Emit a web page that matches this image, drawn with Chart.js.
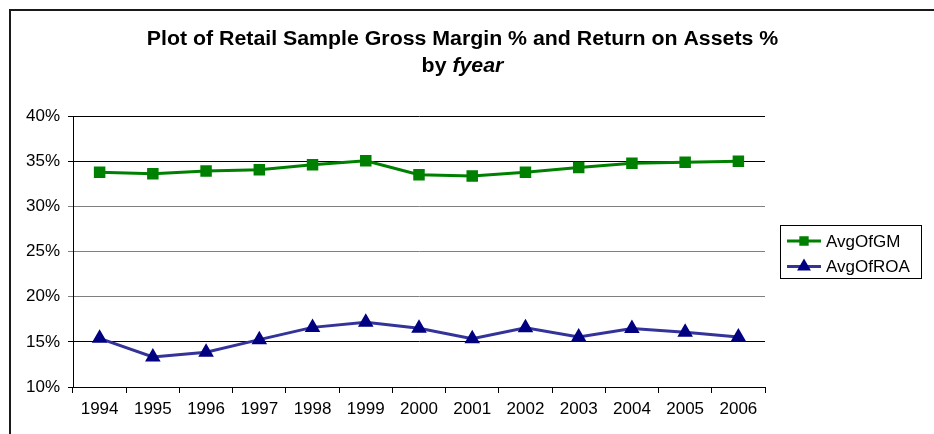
<!DOCTYPE html>
<html>
<head>
<meta charset="utf-8">
<script src="https://cdn.jsdelivr.net/npm/chart.js@4.4.1/dist/chart.umd.min.js"></script>
<style>
    html, body { margin: 0; padding: 0; background: #fff; overflow: hidden; }
</style>
</head>
<body>
<canvas id="retailchart" width="934" height="434"></canvas>
<script>
"use strict";

/* data */
var years = ['1994', '1995', '1996', '1997', '1998', '1999', '2000', '2001', '2002', '2003', '2004', '2005', '2006'];
var avgOfGM = [33.77, 33.62, 33.9, 34.05, 34.6, 35.05, 33.5, 33.36, 33.77, 34.3, 34.76, 34.87, 35.0];
var avgOfROA = [15.39, 13.32, 13.84, 15.24, 16.6, 17.16, 16.5, 15.35, 16.56, 15.53, 16.47, 16.05, 15.53];
var yMin = 10, yMax = 40, yStep = 5;
var titleLine1 = 'Plot of Retail Sample Gross Margin % and Return on Assets %';
var titleLine2a = 'by ';
var titleLine2b = 'fyear';

var FONT = '"Liberation Sans", Arial, sans-serif';

/* frame + title drawn by hand, excel style */
var frameTitle = {
    id: 'frameTitle',
    afterDraw: function (chart) {
        var ctx = chart.ctx;
        ctx.save();
        ctx.strokeStyle = '#1a1a1a';
        ctx.lineWidth = 2;
        ctx.strokeRect(10, 10, 1000, 1000);

        // excel title is a bit wider than plain arial
        var sx = 1.066, cx = 462.5;
        ctx.translate(cx, 0);
        ctx.scale(sx, 1);
        ctx.fillStyle = '#000';
        ctx.textBaseline = 'alphabetic';
        ctx.textAlign = 'center';
        ctx.font = 'bold 20px ' + FONT;
        ctx.fillText(titleLine1, 0, 44.5);

        // second line mixes plain and italic
        ctx.textAlign = 'left';
        var wA = ctx.measureText(titleLine2a).width;
        ctx.font = 'italic bold 20px ' + FONT;
        var wB = ctx.measureText(titleLine2b).width;
        var x0 = -(wA + wB) / 2;
        ctx.font = 'bold 20px ' + FONT;
        ctx.fillText(titleLine2a, x0, 71.5);
        ctx.font = 'italic bold 20px ' + FONT;
        ctx.fillText(titleLine2b, x0 + wA, 71.5);
        ctx.restore();
    }
};

/* legend box on the right */
var boxLegend = {
    id: 'boxLegend',
    afterDraw: function (chart) {
        var ctx = chart.ctx;
        ctx.save();
        ctx.strokeStyle = '#000';
        ctx.lineWidth = 1;
        ctx.strokeRect(780.5, 225.5, 141, 53);
        ctx.font = '17px ' + FONT;
        ctx.textBaseline = 'middle';
        ctx.textAlign = 'left';
        var rows = [241, 266.5];
        var sizes = [4.5, 5];
        chart.data.datasets.forEach(function (ds, i) {
            var y = rows[i];
            ctx.strokeStyle = ds.borderColor;
            ctx.lineWidth = 3;
            ctx.beginPath();
            ctx.moveTo(787, y);
            ctx.lineTo(821, y);
            ctx.stroke();
            ctx.fillStyle = ds.pointBackgroundColor;
            ctx.strokeStyle = ds.pointBorderColor;
            Chart.helpers.drawPoint(ctx, {
                pointStyle: ds.pointStyle,
                rotation: 0,
                borderWidth: 1,
                radius: sizes[i]
            }, 804, y);
            ctx.fillStyle = '#000';
            ctx.fillText(ds.label, 826, y + 1);
        });
        ctx.restore();
    }
};

var chartctx = document.getElementById('retailchart').getContext('2d');
var retailChart = new Chart(chartctx, {
    type: 'line',
    data: {
        labels: years,
        datasets: [{
            label: 'AvgOfGM',
            data: avgOfGM,
            borderColor: '#008000',
            backgroundColor: '#008000',
            pointBackgroundColor: '#008000',
            pointBorderColor: '#008000',
            pointStyle: 'rect',
            pointRadius: 6,
            borderWidth: 3,
            tension: 0
        }, {
            label: 'AvgOfROA',
            data: avgOfROA,
            borderColor: '#333399',
            backgroundColor: '#000080',
            pointBackgroundColor: '#000080',
            pointBorderColor: '#000080',
            pointStyle: 'triangle',
            pointRadius: 6,
            borderWidth: 3,
            tension: 0
        }]
    },
    options: {
        responsive: false,
        animation: false,
        layout: {
            padding: { left: 0, top: 116, right: 169, bottom: 0 }
        },
        plugins: {
            legend: { display: false },
            title: { display: false },
            tooltip: { enabled: false }
        },
        scales: {
            x: {
                offset: true,
                afterFit: function (scale) { scale.height = 47; },
                grid: {
                    offset: true,
                    drawOnChartArea: false,
                    color: '#000',
                    tickLength: 6
                },
                border: { color: '#000', width: 1 },
                ticks: {
                    color: '#000',
                    font: { family: FONT, size: 17 },
                    padding: 6,
                    maxRotation: 0,
                    autoSkip: false
                }
            },
            y: {
                min: yMin,
                max: yMax,
                afterFit: function (scale) { scale.width = 73; },
                grid: {
                    color: function (c) {
                        var v = c.tick ? c.tick.value : 0;
                        return (v >= 20 && v <= 30) ? '#808080' : '#000';
                    },
                    lineWidth: 1,
                    tickLength: 5
                },
                border: { color: '#000', width: 1 },
                ticks: {
                    stepSize: yStep,
                    color: '#000',
                    font: { family: FONT, size: 17 },
                    padding: 8,
                    callback: function (v) { return v + '%'; }
                }
            }
        }
    },
    plugins: [frameTitle, boxLegend]
});
</script>
</body>
</html>
